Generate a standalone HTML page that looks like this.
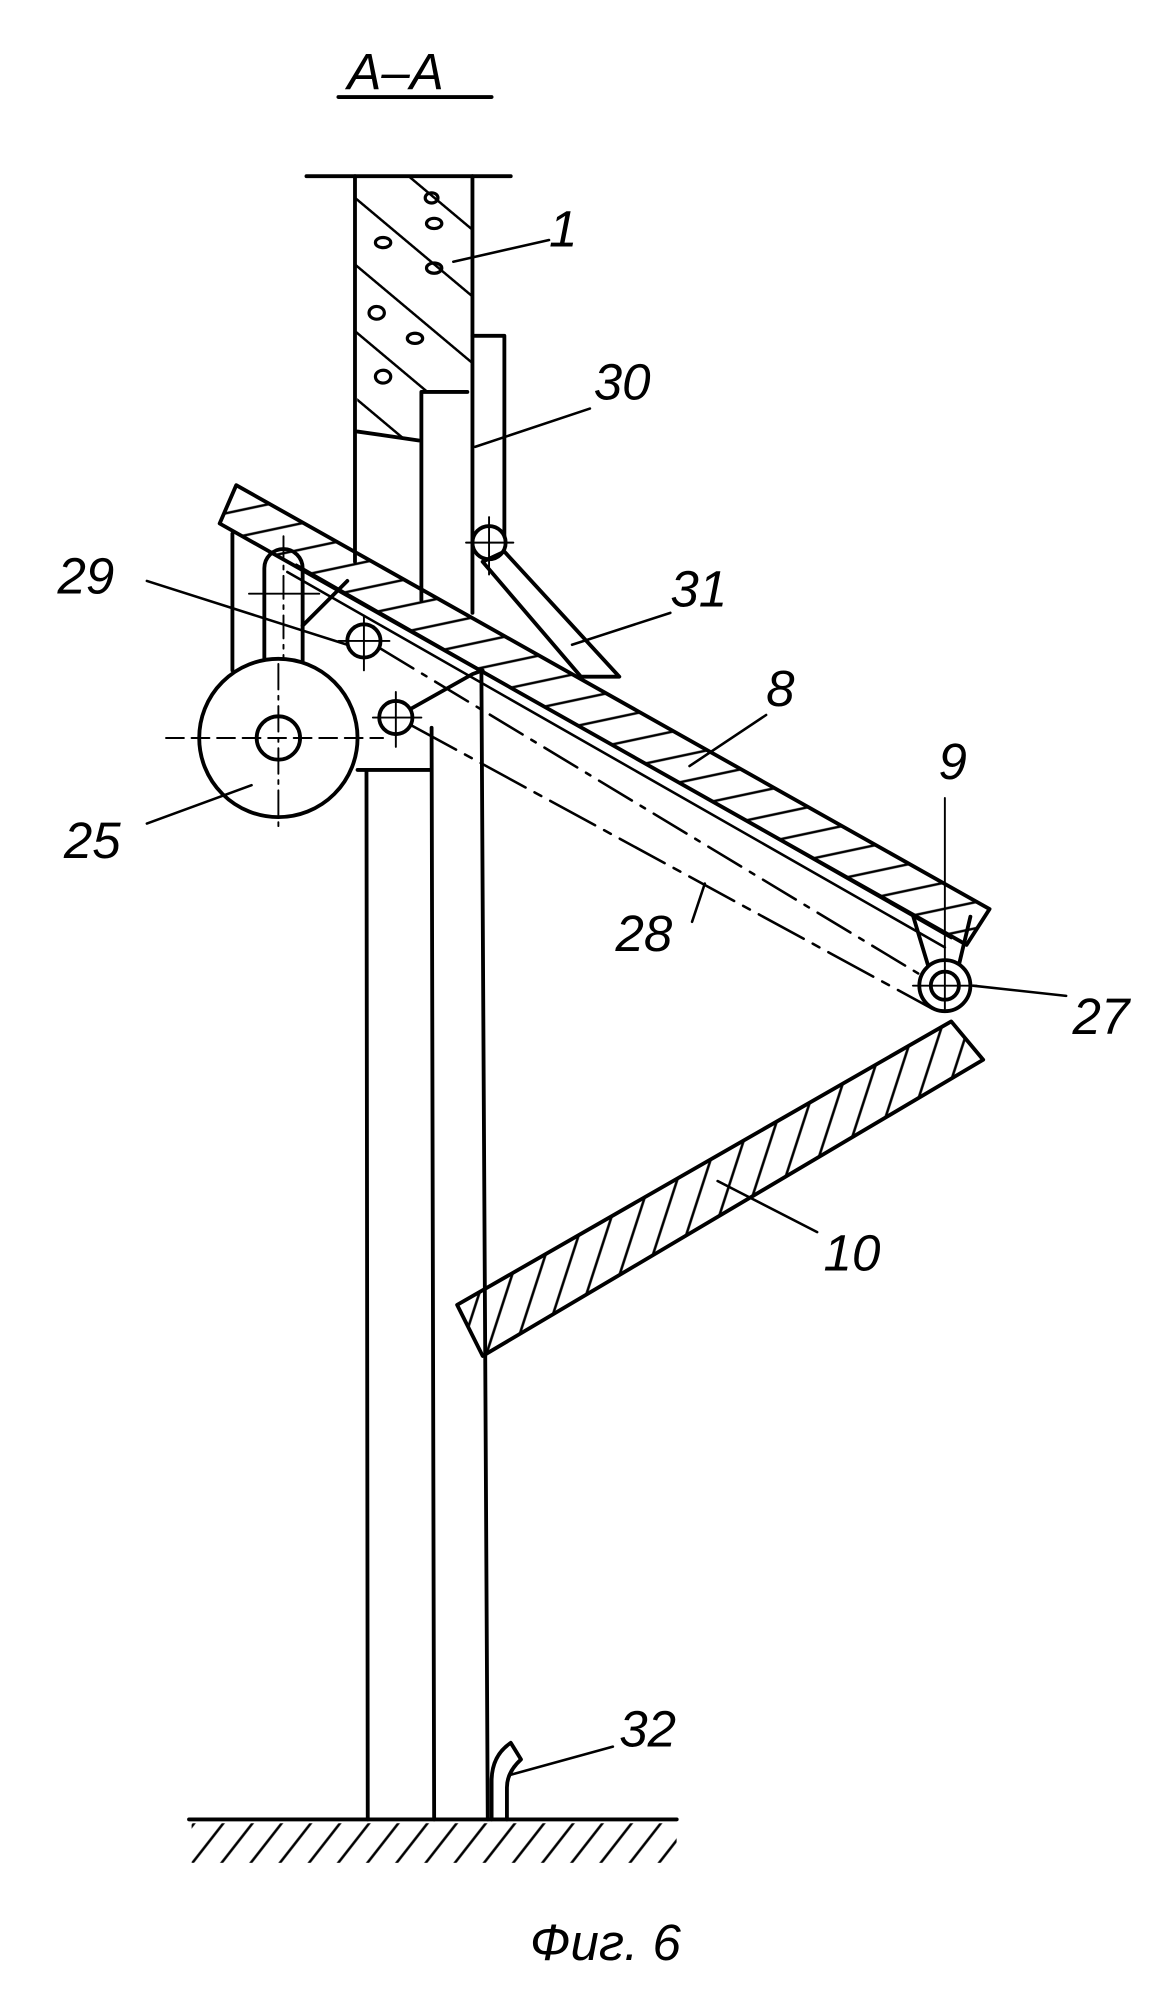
<!DOCTYPE html>
<html><head><meta charset="utf-8"><style>
html,body{margin:0;padding:0;background:#fff;}
svg{display:block;}
text{font-family:"Liberation Sans",sans-serif;font-style:italic;fill:#000;}
</style></head><body>
<svg width="1176" height="2002" viewBox="0 0 921 1568" xmlns="http://www.w3.org/2000/svg">
<defs>
<pattern id="h8" width="40" height="20" patternUnits="userSpaceOnUse" patternTransform="rotate(-12)">
<line x1="0" y1="10" x2="40" y2="10" stroke="#000" stroke-width="2"/></pattern>
<pattern id="h10" width="20" height="40" patternUnits="userSpaceOnUse" patternTransform="rotate(18)">
<line x1="10" y1="0" x2="10" y2="40" stroke="#000" stroke-width="2"/></pattern>
<pattern id="hc" width="40" height="40" patternUnits="userSpaceOnUse" patternTransform="rotate(40)">
<line x1="0" y1="20" x2="40" y2="20" stroke="#000" stroke-width="2"/></pattern>
<pattern id="hg" width="18" height="30" patternUnits="userSpaceOnUse" patternTransform="rotate(38)">
<line x1="9" y1="0" x2="9" y2="30" stroke="#000" stroke-width="2"/></pattern>
<clipPath id="cg"><rect x="150" y="1428" width="380" height="32"/></clipPath>
</defs>
<g fill="none" stroke="#000" stroke-width="3" stroke-linecap="round" stroke-linejoin="round">
<text x="272" y="70" font-size="40" stroke="none">A–A</text>
<line x1="265" y1="76" x2="385" y2="76"/>
<line x1="240" y1="138" x2="400" y2="138"/>
<polygon points="278,138 370,138 370,307 328,307 328,345 280,338" fill="url(#hc)" stroke="none"/>
<g stroke-width="2.5">
<ellipse cx="340" cy="175" rx="6" ry="4"/><ellipse cx="300" cy="190" rx="6" ry="4"/>
<ellipse cx="340" cy="210" rx="6" ry="4"/><ellipse cx="295" cy="245" rx="6" ry="5"/>
<ellipse cx="325" cy="265" rx="6" ry="4"/><ellipse cx="300" cy="295" rx="6" ry="5"/>
<ellipse cx="338" cy="155" rx="5" ry="4"/>
</g>
<line x1="278" y1="138" x2="278" y2="440"/>
<line x1="370" y1="138" x2="370" y2="480"/>
<line x1="280" y1="338" x2="328" y2="345"/>
<polyline points="330,470 330,307 366,307"/>
<polyline points="370,263 395,263 395,420"/>
<circle cx="383" cy="425" r="13"/>
<line x1="365" y1="425" x2="402" y2="425" stroke-width="1.5"/>
<line x1="383" y1="405" x2="383" y2="450" stroke-width="1.5"/>
<polygon points="395,432 485,530 455,530 378,440"/>
<polygon points="185,380 775,712 757,740 172,410" fill="url(#h8)"/>
<line x1="225" y1="448" x2="740" y2="742" stroke-width="2"/>
<line x1="232" y1="442" x2="745" y2="735" stroke-width="1.5"/>
<line x1="182" y1="418" x2="182" y2="525"/>
<path d="M207,522 V445 A15,15 0 0 1 237,445 V522"/>
<line x1="195" y1="465" x2="250" y2="465" stroke-width="1.5"/>
<line x1="222" y1="420" x2="222" y2="530" stroke-width="1.5" stroke-dasharray="18,5,3,5"/>
<line x1="237" y1="490" x2="272" y2="455"/>
<circle cx="285" cy="502" r="13"/>
<line x1="265" y1="502" x2="305" y2="502" stroke-width="1.5"/>
<line x1="285" y1="482" x2="285" y2="525" stroke-width="1.5"/>
<circle cx="310" cy="562" r="13"/>
<line x1="292" y1="562" x2="330" y2="562" stroke-width="1.5"/>
<line x1="310" y1="542" x2="310" y2="585" stroke-width="1.5"/>
<polyline points="322,555 370,528 378,525"/>
<line x1="298" y1="508" x2="725" y2="766" stroke-width="2" stroke-dasharray="30,8,4,8"/>
<line x1="322" y1="568" x2="730" y2="790" stroke-width="2" stroke-dasharray="40,8,6,8"/>
<circle cx="218" cy="578" r="62" fill="#fff"/>
<circle cx="218" cy="578" r="17"/>
<line x1="130" y1="578" x2="300" y2="578" stroke-width="1.5" stroke-dasharray="14,6"/>
<line x1="218" y1="520" x2="218" y2="650" stroke-width="1.5" stroke-dasharray="20,5,3,5"/>
<line x1="280" y1="603" x2="338" y2="603"/>
<line x1="287" y1="603" x2="288" y2="1425"/>
<line x1="338" y1="570" x2="340" y2="1425"/>
<line x1="377" y1="525" x2="380" y2="1062"/>
<line x1="380" y1="1062" x2="382" y2="1425"/>
<polygon points="358,1022 745,800 770,830 378,1062" fill="url(#h10)"/>
<polyline points="715,717 728,760"/>
<polyline points="760,718 750,760"/>
<circle cx="740" cy="772" r="20" fill="#fff"/>
<circle cx="740" cy="772" r="11"/>
<line x1="715" y1="772" x2="765" y2="772" stroke-width="1.5"/>
<line x1="740" y1="625" x2="740" y2="790" stroke-width="1.5"/>
<path d="M385,1425 V1395 Q385,1375 400,1365 L408,1378 Q397,1388 397,1400 V1425"/>
<line x1="148" y1="1425" x2="530" y2="1425"/>
<rect x="150" y="1427" width="380" height="32" fill="url(#hg)" stroke="none" clip-path="url(#cg)"/>
<g stroke-width="2">
<line x1="355" y1="205" x2="430" y2="188"/>
<line x1="372" y1="350" x2="462" y2="320"/>
<line x1="448" y1="505" x2="525" y2="480"/>
<line x1="115" y1="455" x2="272" y2="505"/>
<line x1="115" y1="645" x2="197" y2="615"/>
<line x1="540" y1="600" x2="600" y2="560"/>
<line x1="542" y1="722" x2="552" y2="692"/>
<line x1="562" y1="925" x2="640" y2="965"/>
<line x1="762" y1="772" x2="835" y2="780"/>
<line x1="400" y1="1390" x2="480" y2="1368"/>
</g>
</g>
<g font-size="40" stroke="none">
<text x="430" y="193">1</text>
<text x="465" y="313">30</text>
<text x="525" y="475">31</text>
<text x="45" y="465">29</text>
<text x="50" y="672">25</text>
<text x="600" y="553">8</text>
<text x="735" y="610">9</text>
<text x="482" y="745">28</text>
<text x="840" y="810">27</text>
<text x="645" y="995">10</text>
<text x="485" y="1368">32</text>
<text x="415" y="1535">Фиг. 6</text>
</g>
</svg>
</body></html>
